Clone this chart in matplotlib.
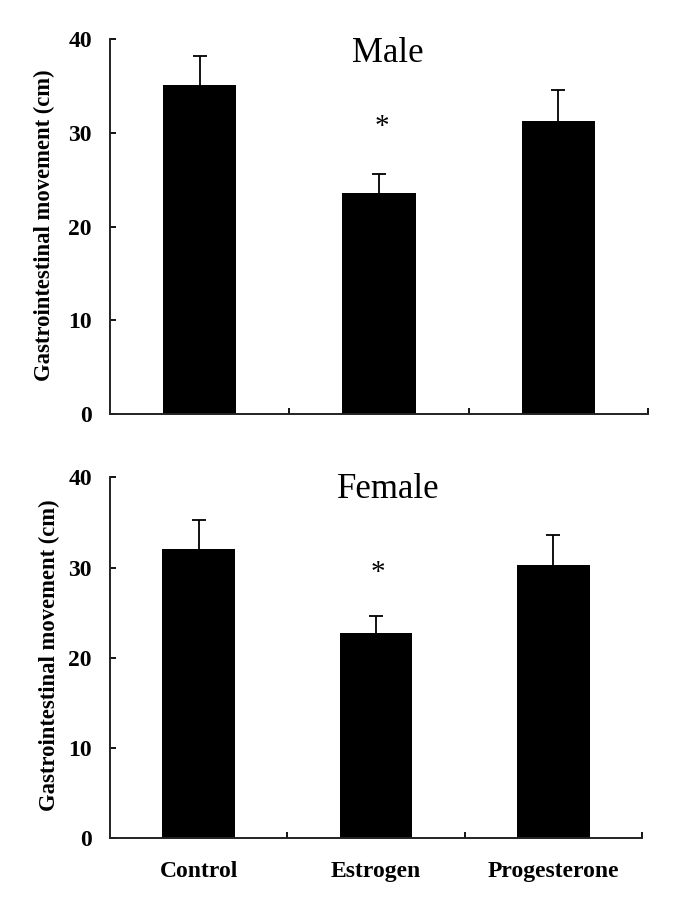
import numpy as np
from matplotlib import pyplot as plt

groups = ['Control', 'Estrogen', 'Progesterone']
male_means = [35.1, 23.6, 31.3]
male_errs = [3.1, 2.0, 3.3]
female_means = [32.1, 22.8, 30.3]
female_errs = [3.2, 1.8, 3.3]
yticks = [0, 10, 20, 30, 40]

plt.rcParams['font.family'] = ['Liberation Serif', 'DejaVu Serif']

fig = plt.figure(figsize=(6.96, 9.02), dpi=100)
ax_top = fig.add_axes([0.1580, 0.5410, 0.7730, 0.4157])
ax_bot = fig.add_axes([0.1580, 0.0706, 0.7644, 0.4002])


def draw_panel(ax, means, errs, title, title_xy, star_xy, show_labels):
    x = np.arange(len(groups))
    ax.bar(x, means, width=0.41, color='black', zorder=2)
    eb = ax.errorbar(x, means, yerr=[np.zeros(len(errs)), errs], fmt='none',
                     ecolor='black', elinewidth=1.3, capsize=4.8, capthick=1.3, zorder=1)
    # only the upper cap is drawn in the original
    eb[1][0].set_visible(False)
    ax.set_xlim(-0.5, 2.5)
    ax.set_ylim(0, 40)
    ax.set_yticks(yticks)
    ax.set_yticklabels([str(t) for t in yticks], fontsize=17, fontweight='bold')
    ax.tick_params(axis='y', direction='in', length=4, width=1.3, pad=13)
    ax.set_xticks(x)
    if show_labels:
        ax.set_xticklabels(groups, fontsize=17, fontweight='bold')
    else:
        ax.set_xticklabels([])
    ax.tick_params(axis='x', which='major', length=0, pad=16)
    ax.set_xticks([0.5, 1.5, 2.5], minor=True)
    ax.tick_params(axis='x', which='minor', direction='in', length=4, width=1.3)
    for side in ['top', 'right']:
        ax.spines[side].set_visible(False)
    for side in ['left', 'bottom']:
        ax.spines[side].set_linewidth(1.4)
        ax.spines[side].set_color('#222222')
    ax.text(title_xy[0], title_xy[1], title, transform=ax.transAxes,
            ha='center', va='center', fontsize=25)
    ax.text(star_xy[0], star_xy[1], '*', ha='center', va='center', fontsize=21)


draw_panel(ax_top, male_means, male_errs, 'Male', (0.517, 0.962), (1.015, 30.6), False)
draw_panel(ax_bot, female_means, female_errs, 'Female', (0.524, 0.965), (1.013, 29.4), True)

fig.text(0.064, 0.75, 'Gastrointestinal movement (cm)', rotation=90,
         ha='center', va='center', fontsize=16.3, fontweight='bold')
fig.text(0.071, 0.2738, 'Gastrointestinal movement (cm)', rotation=90,
         ha='center', va='center', fontsize=16.3, fontweight='bold')

plt.savefig('out.png', dpi=100)
